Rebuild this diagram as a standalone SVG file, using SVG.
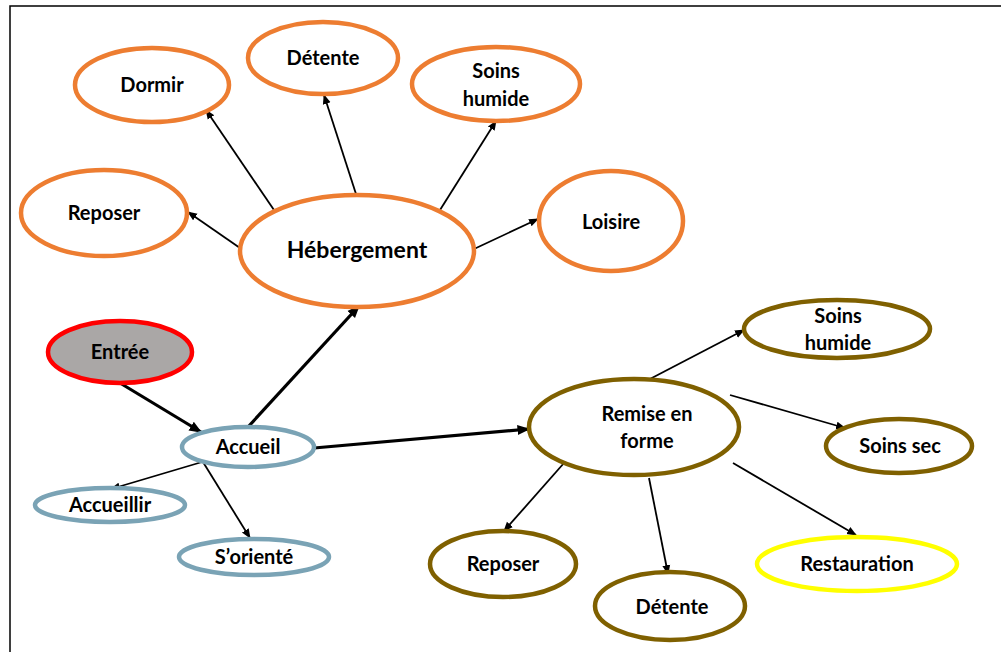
<svg xmlns="http://www.w3.org/2000/svg" width="1001" height="652" viewBox="0 0 1001 652">
<defs>
<style>
.o{fill:#fff;stroke:#ed7d31;stroke-width:4.5}
.b{fill:#fff;stroke:#7aa3b5;stroke-width:4.5}
.g{fill:#fff;stroke:#7f6000;stroke-width:4.5}
.y{fill:#fff;stroke:#ffff00;stroke-width:4.5}
.r{fill:#aaa7a6;stroke:#ff0000;stroke-width:4.5}
text{font-family:Lato,"Open Sans","Liberation Sans",sans-serif;font-weight:bold;font-size:20px;fill:#000;text-anchor:middle}
.c line{stroke:#000;stroke-width:1.8;marker-end:url(#a)}
.c line.t{stroke-width:3.2;marker-end:url(#at)}
</style>
<marker id="a" viewBox="0 0 10 10" refX="9" refY="5" markerWidth="5.5" markerHeight="5.5" orient="auto" markerUnits="strokeWidth"><path d="M0,1 L10,5 L0,9 z" fill="#000"/></marker>
<marker id="at" viewBox="0 0 10 10" refX="9" refY="5" markerWidth="4" markerHeight="4" orient="auto" markerUnits="strokeWidth"><path d="M0,1 L10,5 L0,9 z" fill="#000"/></marker>
</defs>
<rect x="10" y="6" width="1000" height="660" fill="#fff" stroke="#000" stroke-width="1.5"/>
<g class="c">
<line x1="274" y1="210" x2="206" y2="110"/>
<line x1="356" y1="194" x2="324" y2="95"/>
<line x1="440" y1="210" x2="496" y2="121"/>
<line x1="240" y1="248" x2="188" y2="212"/>
<line x1="474" y1="249" x2="538" y2="219"/>
<line class="t" x1="120" y1="383" x2="201" y2="432"/>
<line class="t" x1="248" y1="427" x2="359" y2="306"/>
<line class="t" x1="314" y1="448" x2="529" y2="429"/>
<line x1="202" y1="462" x2="111" y2="489"/>
<line x1="203" y1="462" x2="250" y2="538"/>
<line x1="648" y1="380" x2="744" y2="330"/>
<line x1="730" y1="395" x2="845" y2="428"/>
<line x1="564" y1="463" x2="504" y2="531"/>
<line x1="649" y1="478" x2="668" y2="574"/>
<line x1="733" y1="463" x2="856" y2="535"/>
</g>
<g id="dormir"><ellipse class="o" cx="152" cy="85" rx="77" ry="37"/><text x="152" y="92">Dormir</text></g>
<g id="detente1"><ellipse class="o" cx="323" cy="58" rx="75" ry="36"/><text x="323" y="65">Détente</text></g>
<g id="soinsh1"><ellipse class="o" cx="496" cy="84" rx="84" ry="37"/><text x="496" y="78">Soins</text><text x="496" y="106">humide</text></g>
<g id="reposer1"><ellipse class="o" cx="104" cy="213" rx="83" ry="43"/><text x="104" y="220">Reposer</text></g>
<g id="hebergement"><ellipse class="o" cx="357" cy="251" rx="117" ry="56"/><text x="357" y="258" style="font-size:23px">Hébergement</text></g>
<g id="loisire"><ellipse class="o" cx="611" cy="221" rx="72" ry="50"/><text x="611" y="229">Loisire</text></g>
<g id="entree"><ellipse class="r" cx="120" cy="352" rx="72" ry="31"/><text x="120" y="359">Entrée</text></g>
<g id="accueil"><ellipse class="b" cx="248" cy="447" rx="66" ry="20"/><text x="248" y="454">Accueil</text></g>
<g id="accueillir"><ellipse class="b" cx="110" cy="505" rx="75" ry="17"/><text x="110" y="512">Accueillir</text></g>
<g id="soriente"><ellipse class="b" cx="254" cy="557" rx="75" ry="18"/><text x="254" y="564">S’orienté</text></g>
<g id="remise"><ellipse class="g" cx="634" cy="427" rx="105" ry="48"/><text x="647" y="421">Remise en</text><text x="647" y="448">forme</text></g>
<g id="soinsh2"><ellipse class="g" cx="837" cy="329" rx="93" ry="29"/><text x="838" y="323">Soins</text><text x="838" y="350">humide</text></g>
<g id="soinssec"><ellipse class="g" cx="899" cy="446" rx="73" ry="27"/><text x="900" y="453">Soins sec</text></g>
<g id="reposer2"><ellipse class="g" cx="503" cy="564" rx="73" ry="33"/><text x="503" y="571">Reposer</text></g>
<g id="detente2"><ellipse class="g" cx="670" cy="606" rx="75" ry="34"/><text x="672" y="614">Détente</text></g>
<g id="restauration"><ellipse class="y" cx="857" cy="564" rx="100" ry="27"/><text x="857" y="571">Restauration</text></g>
</svg>
